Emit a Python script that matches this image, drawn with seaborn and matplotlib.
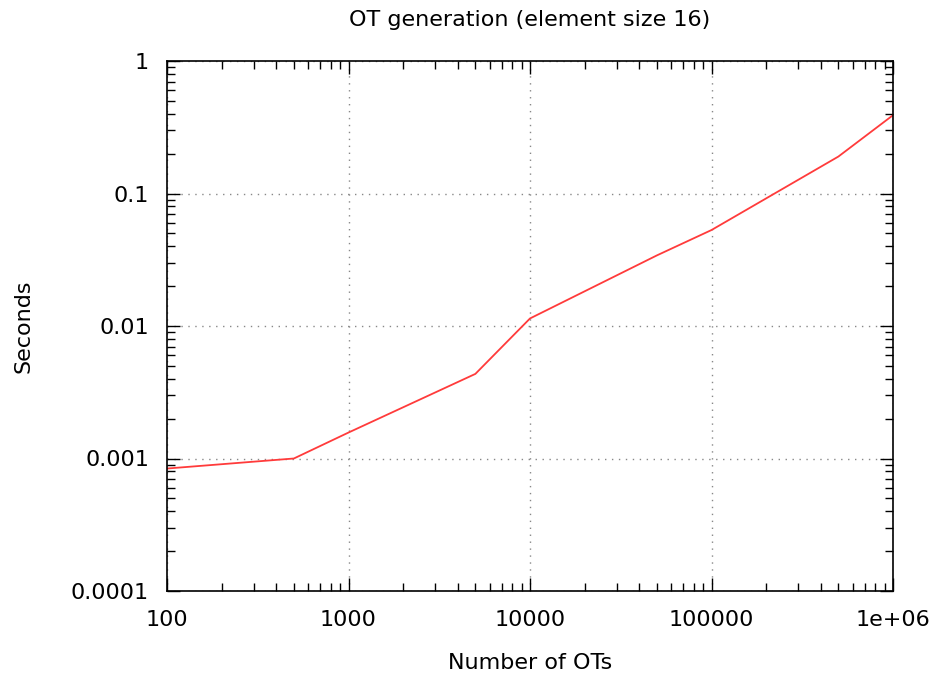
import matplotlib
matplotlib.use("Agg")
import matplotlib.pyplot as plt
import matplotlib.ticker as mticker
import seaborn as sns
import pandas as pd

num_ots = [100, 500, 1000, 5000, 10000, 50000, 100000, 500000, 1000000]
seconds = [0.00084, 0.001, 0.00157, 0.00435, 0.0114, 0.0341, 0.053, 0.19, 0.39]

x_ticks = [100, 1000, 10000, 100000, 1000000]
x_tick_labels = ["100", "1000", "10000", "100000", "1e+06"]
y_ticks = [0.0001, 0.001, 0.01, 0.1, 1]
y_tick_labels = ["0.0001", "0.001", "0.01", "0.1", "1"]

df = pd.DataFrame({"Number of OTs": num_ots, "Seconds": seconds})

sns.set_style("white")
plt.rcParams["font.family"] = ["DejaVu Sans"]
plt.rcParams["text.color"] = "black"
plt.rcParams["axes.labelcolor"] = "black"
plt.rcParams["xtick.color"] = "black"
plt.rcParams["ytick.color"] = "black"

fig = plt.figure(figsize=(9.4, 6.79), dpi=100)
ax = fig.add_axes([167/940, 1-591/679, (893-167)/940, (591-61)/679])

sns.lineplot(data=df, x="Number of OTs", y="Seconds", ax=ax, color="#ff3b3b",
             linewidth=1.3, legend=False)

ax.set_xscale("log")
ax.set_yscale("log")
ax.set_xlim(100, 1e6)
ax.set_ylim(1e-4, 1)

ax.set_xticks(x_ticks)
ax.set_xticklabels(x_tick_labels)
ax.set_yticks(y_ticks)
ax.set_yticklabels(y_tick_labels)
ax.xaxis.set_minor_locator(mticker.LogLocator(base=10, subs=range(2, 10), numticks=20))
ax.yaxis.set_minor_locator(mticker.LogLocator(base=10, subs=range(2, 10), numticks=20))
ax.xaxis.set_minor_formatter(mticker.NullFormatter())
ax.yaxis.set_minor_formatter(mticker.NullFormatter())

ax.tick_params(which="both", direction="in", top=True, right=True, bottom=True, left=True,
               labelsize=16, color="black", labelcolor="black", width=1.0)
ax.tick_params(which="major", length=9.5)
ax.tick_params(which="minor", length=6)
ax.tick_params(axis="y", which="major", pad=13)
ax.tick_params(axis="x", which="major", pad=14)

ax.grid(True, which="major", linestyle=(0, (1, 4)), color="#888888", linewidth=1.0)

for s in ax.spines.values():
    s.set_color("black")
    s.set_linewidth(1.2)

ax.set_title("OT generation (element size 16)", fontsize=16, pad=25, color="black")
ax.set_xlabel("Number of OTs", fontsize=16, labelpad=16)
ax.set_ylabel("Seconds", fontsize=16, labelpad=27)

fig.savefig("out.png", dpi=100)
